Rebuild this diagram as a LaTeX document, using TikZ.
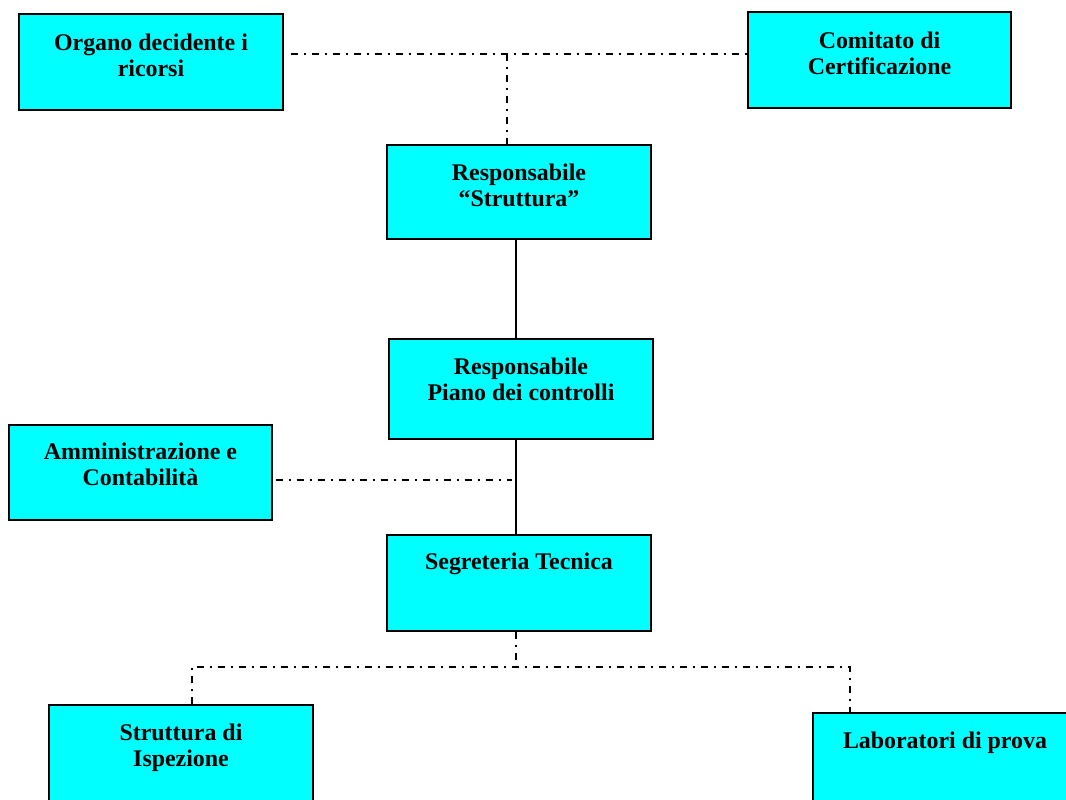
\documentclass[tikz,border=0pt]{standalone}
\usepackage{fontspec}
\setmainfont{Liberation Serif}
\usetikzlibrary{positioning, calc}

\definecolor{boxcyan}{RGB}{0,255,255}

\begin{document}
\begin{tikzpicture}[x=0.02cm, y=-0.02cm,
    % Styles
    org box/.style={draw=black, line width=0.8pt, fill=boxcyan, minimum width=5.28cm, minimum height=1.92cm, inner sep=0},
    box text/.style={anchor=north, inner sep=0, align=center, font=\fontsize{13.6}{14.9}\selectfont\bfseries},
    line solid/.style={line width=0.85pt},
    line dashdot/.style={line width=0.85pt, dash pattern=on 0.15cm off 0.11cm on 0.04cm off 0.12cm},
]
    \clip (0,0) rectangle (1066,800);

    % Boxes - placed at coordinates (pixels of the page)
    \node[org box] (ricorsi) at (151,62) {};
    \node[org box, minimum width=5.26cm] (comitato) at (879.5,60) {};
    \node[org box, minimum height=1.88cm] (struttura) at (519,192) {};
    \node[org box, minimum height=2cm] (piano) at (521,389) {};
    \node[org box, minimum width=5.26cm, minimum height=1.9cm] (ammin) at (140.5,472.5) {};
    \node[org box] (segreteria) at (519,583) {};
    \node[org box] (ispezione) at (181,753) {};
    \node[org box] (laboratori) at (945,761) {};

    % Texts - hung from the top of each box
    \node[box text, below=4.1mm of ricorsi.north] (ricorsi txt) {Organo decidente i\\ricorsi};
    \node[box text, below=4.1mm of comitato.north] (comitato txt) {Comitato di\\Certificazione};
    \node[box text, below=3.8mm of struttura.north] (struttura txt) {Responsabile\\“Struttura”};
    \node[box text, below=3.9mm of piano.north] (piano txt) {Responsabile\\Piano dei controlli};
    \node[box text, below=3.7mm of ammin.north] (ammin txt) {Amministrazione e\\Contabilità};
    \node[box text, below=3.7mm of segreteria.north] (segreteria txt) {Segreteria Tecnica};
    \node[box text, below=3.8mm of ispezione.north] (ispezione txt) {Struttura di\\Ispezione};
    \node[box text, below=3.9mm of laboratori.north] (laboratori txt) {Laboratori di prova};

    % Junction points
    \coordinate (hub top) at (507,54);
    \coordinate (spine) at (516,0);
    \coordinate (ammin end) at (512,480);
    \coordinate (hub bottom) at (516,667);
    \coordinate (drop left) at (192,667);
    \coordinate (drop right) at (850,667);

    % Top dash-dot links
    \draw[line dashdot] ([xshift=0.14cm]ricorsi.east |- hub top) -- (hub top) -- (comitato.west |- hub top);
    \draw[line dashdot] (hub top) -- ([yshift=-0.1cm]struttura.north -| hub top);

    % Solid chain down the middle
    \draw[line solid] (struttura.south -| spine) -- (piano.north -| spine);
    \draw[line solid] (piano.south -| spine) -- (segreteria.north -| spine);

    % Side link
    \draw[line dashdot] ([xshift=0.06cm]ammin.east |- ammin end) -- (ammin end);

    % Bottom dash-dot tree
    \draw[line dashdot] (segreteria.south -| hub bottom) -- (hub bottom);
    \draw[line dashdot] (ispezione.north -| drop left) -- (drop left) -- (drop right) -- ([yshift=-0.1cm]laboratori.north -| drop right);
\end{tikzpicture}
\end{document}
